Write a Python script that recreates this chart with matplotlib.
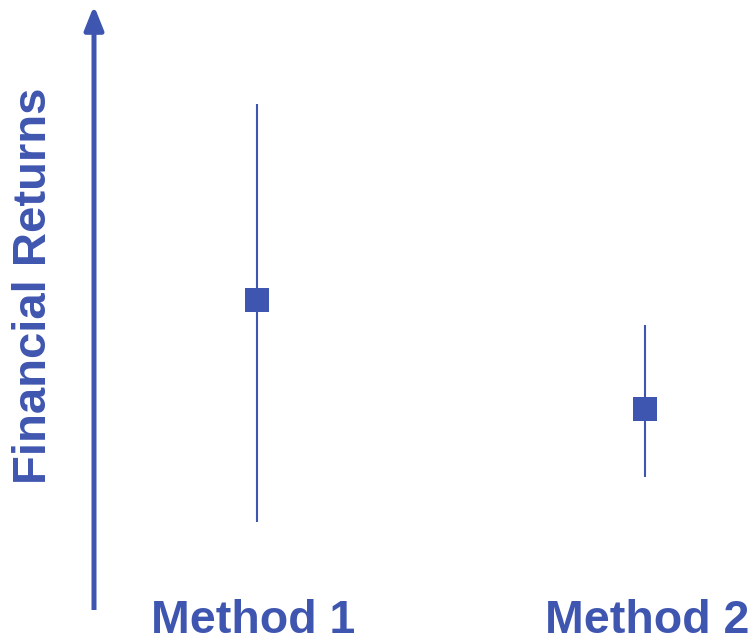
import matplotlib
matplotlib.use("Agg")
import matplotlib.pyplot as plt
from matplotlib.transforms import offset_copy

categories = ["Method 1", "Method 2"]
means = [3.10, 2.01]
lows = [0.88, 1.33]
highs = [5.06, 2.85]
ylabel = "Financial Returns"

color = "#3F56B0"
plt.rcParams['font.family'] = ['Liberation Sans', 'DejaVu Sans']

W, H = 756, 643
fig = plt.figure(figsize=(W/100, H/100), dpi=100)
ax = fig.add_axes([94/W, (H-610)/H, (W-94)/W, 602/H])
ax.set_xlim(-0.420, 1.286)
ax.set_ylim(0, 6.02)
ax.axis('off')

xs = list(range(len(categories)))
for x, m, lo, hi in zip(xs, means, lows, highs):
    ax.plot([x, x], [lo, hi], color=color, lw=1.5, solid_capstyle='butt')
    ax.plot([x], [m], marker='s', ms=16.6, color=color, mec=color, mew=0)

# axis arrow
ax.annotate("", xy=(0, 1.004), xytext=(0, 0), xycoords='axes fraction',
            textcoords='axes fraction',
            arrowprops=dict(arrowstyle='-|>,head_length=1.44,head_width=0.576',
                            mutation_scale=10, lw=3.6, color=color,
                            shrinkA=0, shrinkB=0, capstyle='butt'),
            annotation_clip=False)

trans = ax.get_xaxis_transform()
label_dx = [-4, 2]
for x, c, dx in zip(xs, categories, label_dx):
    t = offset_copy(trans, fig=fig, x=dx, y=0, units='dots')
    ax.text(x, -23/602, c, transform=t, ha='center', va='baseline',
            fontsize=33.5, fontweight='bold', color=color, clip_on=False)

fig.text(34/W, (H-286)/H, ylabel, rotation=90, ha='center', va='center',
         fontsize=34, fontweight='bold', color=color)

fig.savefig("out.png", dpi=100)
